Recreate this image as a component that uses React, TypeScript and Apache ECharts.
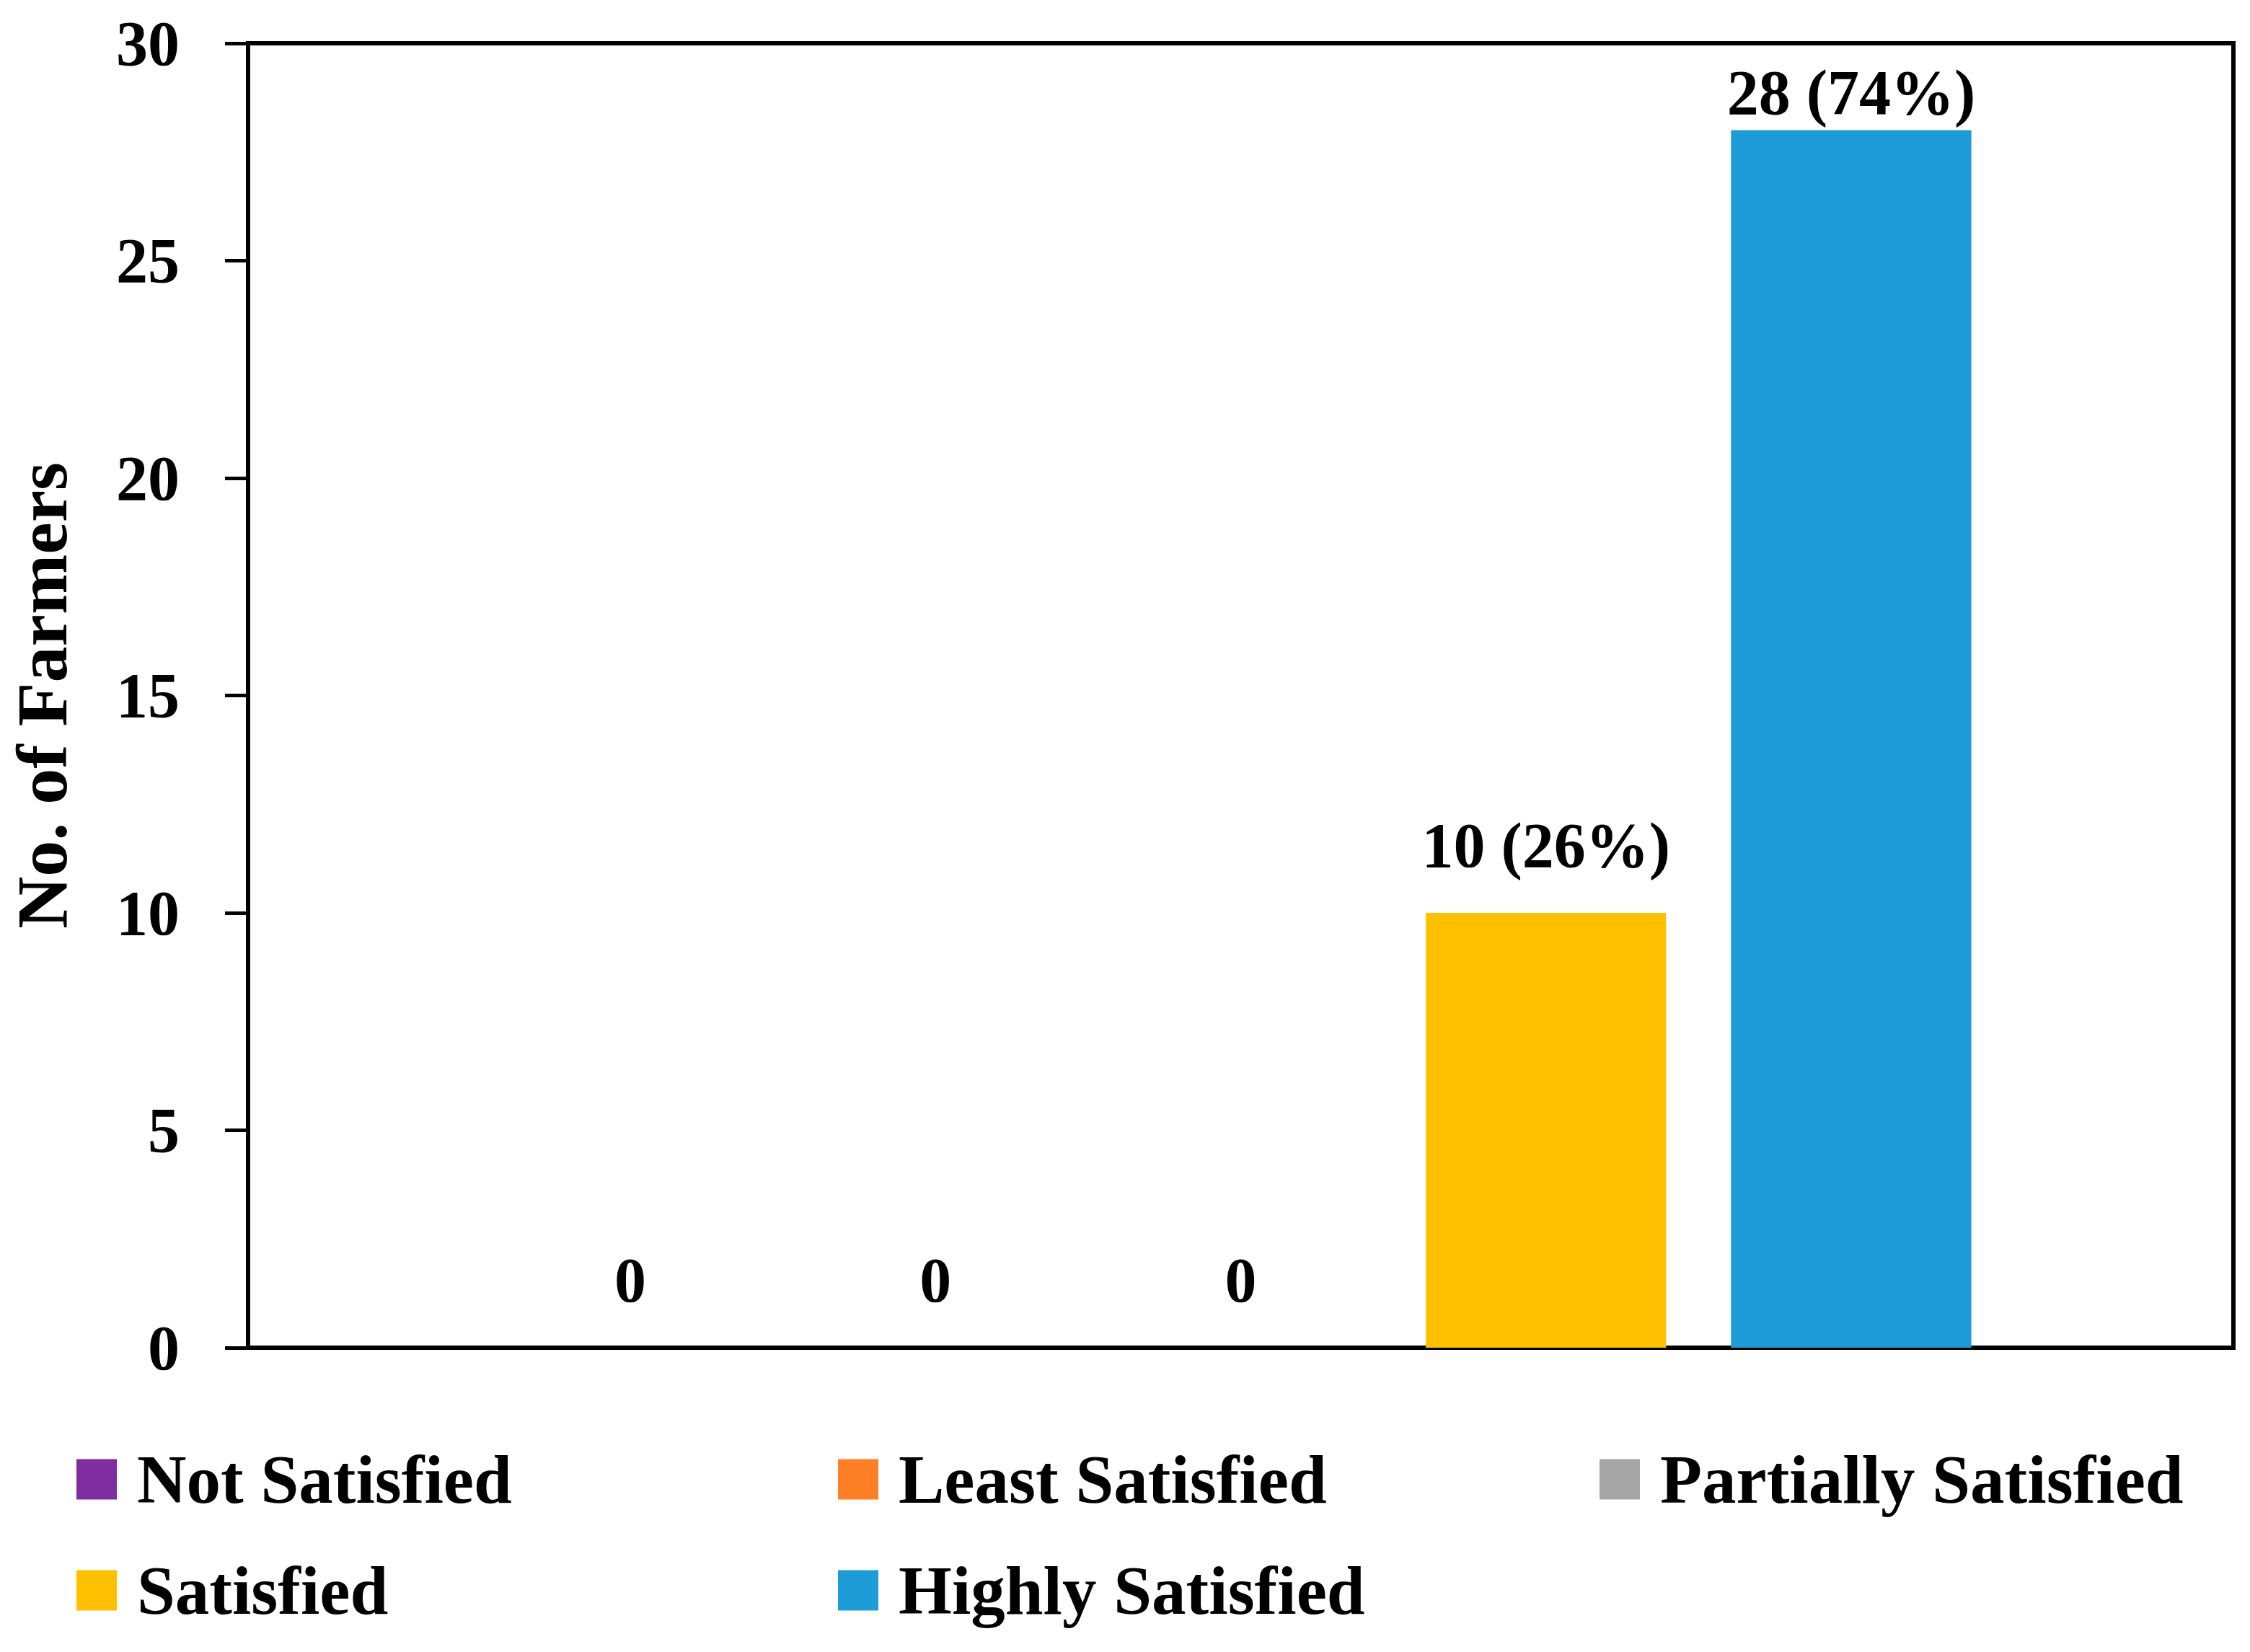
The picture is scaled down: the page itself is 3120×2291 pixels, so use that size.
import React, { useEffect, useRef } from "react";
import * as echarts from "echarts";

const seriesNames = ["Not Satisfied", "Least Satisfied", "Partially Satisfied", "Satisfied", "Highly Satisfied"];
const counts = [0, 0, 0, 10, 28];
const percents: (number | null)[] = [null, null, null, 26, 74];
const colors = ["#7F2DA1", "#FF7F27", "#A6A6A6", "#FFC000", "#1E9CD8"];
const yTicks = { min: 0, max: 30, interval: 5 };
const categories = [""];

const FONT = "'Liberation Serif', 'Times New Roman', serif";

export default function App() {
  const ref = useRef<HTMLDivElement>(null);
  useEffect(() => {
    document.body.style.margin = "0";
    const chart = echarts.init(ref.current!, null, { renderer: "svg" });
    const legendPos = [
      { left: 106, top: 2004 },
      { left: 1162, top: 2004 },
      { left: 2218, top: 2004 },
      { left: 106, top: 2158 },
      { left: 1162, top: 2158 },
    ];
    const option: any = {
      animation: false,
      backgroundColor: "#ffffff",
      grid: {
        left: 337,
        right: 23,
        top: 60,
        bottom: 422,
        show: true,
        borderColor: "#000",
        borderWidth: 6,
        backgroundColor: "transparent",
      },
      legend: seriesNames.map((n, i) => ({
        data: [n],
        left: legendPos[i].left,
        top: legendPos[i].top,
        orient: "horizontal",
        icon: "rect",
        itemWidth: 56,
        itemHeight: 56,
        selectedMode: false,
        padding: 0,
        textStyle: {
          fontFamily: FONT,
          fontWeight: "bold",
          fontSize: 95,
          color: "#000",
          lineHeight: 56,
          padding: [0, 0, 0, 23],
        },
      })),
      xAxis: {
        type: "category",
        data: categories,
        axisLine: { show: true, lineStyle: { color: "#000", width: 6 } },
        axisTick: { show: false },
        axisLabel: { show: false },
        splitLine: { show: false },
      },
      yAxis: {
        type: "value",
        min: yTicks.min,
        max: yTicks.max,
        interval: yTicks.interval,
        name: "No. of Farmers",
        nameLocation: "middle",
        nameGap: 236,
        nameTextStyle: { fontFamily: FONT, fontWeight: "bold", fontSize: 100, color: "#000" },
        axisLine: { show: true, lineStyle: { color: "#000", width: 6 } },
        axisTick: { show: true, inside: false, length: 32, lineStyle: { color: "#000", width: 5 } },
        axisLabel: { fontFamily: FONT, fontWeight: "bold", fontSize: 88, color: "#000", margin: 95 },
        splitLine: { show: false },
      },
      series: seriesNames.map((n, i) => ({
        name: n,
        type: "bar",
        barGap: "27%",
        barCategoryGap: "26.4%",
        itemStyle: { color: colors[i] },
        label: {
          show: true,
          position: "top",
          distance: counts[i] >= 25 ? 8 : 50,
          fontFamily: FONT,
          fontWeight: "bold",
          fontSize: 88,
          color: "#000",
          formatter: () =>
            percents[i] == null ? `${counts[i]}` : `${counts[i]} (${percents[i]}%)`,
        },
        data: [counts[i]],
      })),
    };
    chart.setOption(option);
    return () => chart.dispose();
  }, []);
  return (
    <div
      ref={ref}
      style={{ position: "absolute", left: 0, top: 0, width: 3120, height: 2291, background: "#fff" }}
    />
  );
}
